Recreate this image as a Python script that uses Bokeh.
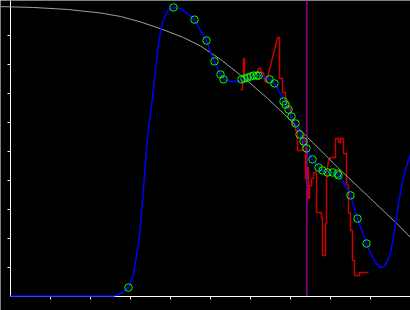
from bokeh.plotting import figure
from bokeh.models import Range1d, LinearAxis, FixedTicker
from bokeh.embed import file_html
from bokeh.resources import INLINE

# --- data ---
gray_x = [-0.25, 0.58, 1.43, 2.25, 2.75, 3.25, 3.75, 4.33, 4.75, 5.25, 5.83, 6.43,
          6.93, 7.33, 7.88, 8.18, 9.0, 9.68, 10.0]
gray_y = [9.98, 9.95, 9.88, 9.76, 9.64, 9.45, 9.22, 8.91, 8.62, 8.16, 7.53, 6.81,
          6.16, 5.60, 4.85, 4.43, 3.36, 2.47, 2.02]

blue_x = [0.0, 2.575, 2.7, 2.8, 2.95, 3.05, 3.125, 3.175, 3.225, 3.3, 3.375, 3.425,
          3.475, 3.55, 3.6, 3.675, 3.75, 3.825, 3.95, 4.075, 4.25, 4.425, 4.6, 4.75,
          4.9, 5.0, 5.1, 5.25, 5.35, 5.5, 5.675, 5.825, 5.95, 6.075, 6.2, 6.325,
          6.475, 6.6, 6.75, 6.875, 7.025, 7.125, 7.25, 7.325, 7.4, 7.55, 7.7, 7.8,
          7.925, 8.05, 8.175, 8.25, 8.375, 8.5, 8.675, 8.8, 8.9, 9.0, 9.125, 9.25,
          9.35, 9.425, 9.5, 9.575, 9.7, 9.825, 9.925, 10.0]
blue_y = [0.0, 0.0, 0.05, 0.12, 0.29, 0.6, 1.16, 1.64, 2.05, 3.29, 4.6, 5.43,
          6.05, 6.81, 7.5, 8.4, 9.09, 9.53, 9.88, 9.95, 9.91, 9.74, 9.53, 9.16,
          8.81, 8.4, 8.09, 7.64, 7.47, 7.4, 7.4, 7.47, 7.53, 7.6, 7.6, 7.57,
          7.47, 7.33, 6.98, 6.6, 6.19, 5.95, 5.6, 5.33, 5.09, 4.71, 4.43, 4.33,
          4.26, 4.26, 4.22, 4.09, 3.81, 3.47, 2.67, 2.19, 1.81, 1.47, 1.16, 0.98,
          1.02, 1.22, 1.5, 2.02, 3.19, 4.09, 4.57, 4.91]

green_x = [2.95, 4.075, 4.6, 4.9, 5.1, 5.25, 5.325, 5.775, 5.85, 5.925, 6.0, 6.075,
           6.15, 6.2, 6.475, 6.6, 6.825, 6.875, 6.95, 7.025, 7.125, 7.225, 7.325,
           7.4, 7.55, 7.7, 7.8, 7.925, 8.05, 8.175, 8.2, 8.5, 8.675, 8.9]
green_y = [0.29, 9.95, 9.53, 8.81, 8.09, 7.64, 7.47, 7.47, 7.5, 7.53, 7.57, 7.6,
           7.6, 7.6, 7.47, 7.33, 6.71, 6.6, 6.43, 6.19, 5.95, 5.57, 5.33,
           5.09, 4.71, 4.43, 4.33, 4.26, 4.26, 4.22, 4.16, 3.47, 2.67, 1.81]

red_x = [5.75, 5.8, 5.8, 5.825, 5.825, 5.85, 5.85, 6.0, 6.075, 6.175, 6.2, 6.25,
         6.275, 6.325, 6.35, 6.4, 6.425, 6.675, 6.725, 6.725, 6.8, 6.8, 6.875,
         6.875, 6.95, 6.95, 7.0, 7.0, 7.05, 7.05, 7.125, 7.125, 7.175, 7.175, 7.3,
         7.3, 7.325, 7.325, 7.375, 7.375, 7.425, 7.425, 7.45, 7.45, 7.475, 7.475,
         7.525, 7.525, 7.575, 7.575, 7.65, 7.65, 7.775, 7.775, 7.8, 7.8, 7.875,
         7.875, 7.9, 7.9, 7.925, 7.95, 8.0, 8.125, 8.125, 8.2, 8.2, 8.25, 8.25,
         8.325, 8.325, 8.4, 8.4, 8.45, 8.45, 8.5, 8.5, 8.55, 8.55, 8.6, 8.6,
         8.725, 8.725, 8.95]
red_y = [7.12, 7.12, 7.43, 7.43, 8.19, 8.19, 7.43, 7.5, 7.64, 7.67, 7.85, 7.85,
         7.71, 7.71, 7.43, 7.36, 7.53, 8.91, 8.91, 7.5, 7.5, 7.02, 7.02,
         6.67, 6.67, 6.47, 6.47, 6.16, 6.16, 5.88, 5.88, 5.71, 5.71, 5.02, 5.02,
         5.53, 5.53, 5.36, 5.36, 4.05, 4.05, 4.43, 4.43, 3.36, 3.36, 3.81,
         3.81, 4.05, 4.05, 4.26, 4.26, 2.88, 2.88, 2.71, 2.71, 1.40, 1.40,
         2.5, 2.5, 3.98, 4.43, 4.67, 4.78, 4.78, 5.43, 5.43, 5.29, 5.29, 5.43,
         5.43, 4.91, 4.91, 3.88, 3.81, 2.85, 2.85, 2.26, 2.26, 1.22, 1.22, 0.71,
         0.71, 0.81, 0.81]

marker_x = 7.41
x_ticks = [1, 2, 3, 4, 5, 6, 7, 8, 9]
y_ticks = [1, 2, 3, 4, 5, 6, 7, 8, 9]

p = figure(width=410, height=310, output_backend="svg", toolbar_location=None,
           x_range=Range1d(-0.25, 10.0), y_range=Range1d(-0.5, 10.19),
           x_axis_type=None, y_axis_type=None, min_border=0,
           background_fill_color="black", border_fill_color="black",
           outline_line_color=None)

for loc, ticks, side in ((0, x_ticks, "below"), (0, y_ticks, "left")):
    ax = LinearAxis(fixed_location=loc, ticker=FixedTicker(ticks=ticks),
                    bounds=(0, 10.5), axis_line_color="white", axis_line_width=1,
                    major_tick_line_color="white", major_tick_line_width=1,
                    major_tick_in=0, major_tick_out=3,
                    minor_tick_line_color=None,
                    major_label_text_font_size="0px", major_label_text_color=None,
                    level="underlay")
    p.add_layout(ax, side)

p.line(red_x, red_y, line_color="#cc0000", line_width=1.5)
p.line(gray_x, gray_y, line_color="#a0a0a0", line_width=1)
p.line(blue_x, blue_y, line_color="#0000ff", line_width=1.5)
p.segment(x0=[marker_x], y0=[0], x1=[marker_x], y1=[10.5],
          line_color="#990099", line_width=1.5)
p.scatter(green_x, green_y, marker="circle", size=7.5, fill_color=None,
          line_color="#00ff00", line_width=1)

open("out.html", "w").write(file_html(p, INLINE))
